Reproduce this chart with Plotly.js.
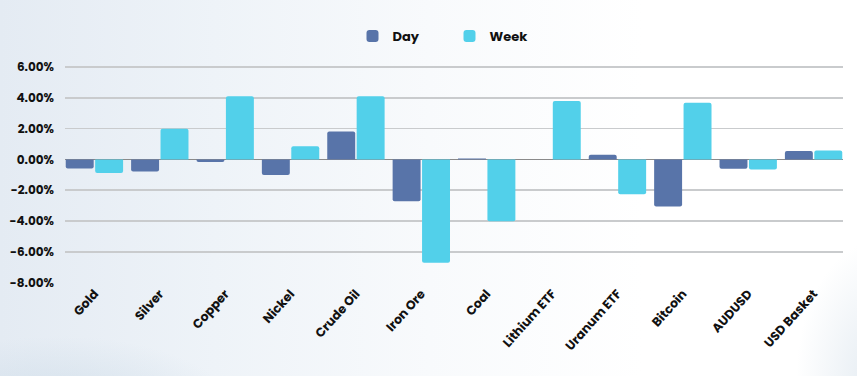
<!DOCTYPE html>
<html>
<head>
<meta charset="utf-8">
<script src="https://cdn.plot.ly/plotly-3.0.1.min.js"></script>
<style>
html,body{margin:0;padding:0;width:857px;height:376px;overflow:hidden;}
body{background:
 radial-gradient(ellipse 260px 120px at 60px 420px, rgba(190,210,225,0.55), rgba(190,210,225,0) 70%),
 radial-gradient(ellipse 120px 200px at 880px 380px, rgba(200,215,228,0.5), rgba(200,215,228,0) 70%),
 linear-gradient(90deg, #e4ebf3 0%, #eef3f8 25%, #f8fafc 50%, #ffffff 75%, #ffffff 100%);}
#chart{width:857px;height:376px;}
</style>
</head>
<body>
<div id="chart"></div>
<script>
const categories = ["Gold","Silver","Copper","Nickel","Crude Oil","Iron Ore","Coal","Lithium ETF","Uranum ETF","Bitcoin","AUDUSD","USD Basket"];
const dayValues  = [-0.59,-0.78,-0.17,-1.02,1.82,-2.71,0.06,0.0,0.30,-3.06,-0.61,0.54];
const weekValues = [-0.89,1.99,4.10,0.85,4.10,-6.71,-4.02,3.80,-2.26,3.69,-0.65,0.58];
const yTickVals  = [-8,-6,-4,-2,0,2,4,6];
const yTickText  = ["-8.00%","-6.00%","-4.00%","-2.00%","0.00%","2.00%","4.00%","6.00%"];

const font = "Poppins, Inter, 'Open Sans', sans-serif";
const traces = [
  {type:"bar", name:"Day", x:categories, y:dayValues,
   marker:{color:"#5874a9", cornerradius:2}},
  {type:"bar", name:"Week", x:categories, y:weekValues,
   marker:{color:"#52d0ea", cornerradius:2}}
];
const layout = {
  width:857, height:376,
  margin:{l:65, r:14, t:64, b:93, autoexpand:false},
  paper_bgcolor:"rgba(0,0,0,0)", plot_bgcolor:"rgba(0,0,0,0)",
  barmode:"group", bargap:0.10, bargroupgap:0.05,
  font:{family:font, color:"#111", size:12},
  showlegend:true,
  legend:{orientation:"h", x:0.5245, xref:"container", xanchor:"center",
          y:1-36/376, yref:"container", yanchor:"middle",
          font:{family:font, size:13, weight:700, color:"#111"}, itemwidth:30,
          entrywidth:52, traceorder:"normal"},
  xaxis:{range:[-0.45,11.45], showgrid:false, zeroline:false, showline:false,
         tickangle:-48, ticks:"", tickfont:{family:font, size:12.5, weight:700, color:"#111"},
         fixedrange:true},
  yaxis:{range:[-8.03,6.2], tickvals:yTickVals, ticktext:yTickText, showgrid:true,
         gridcolor:"#c9cbcd", gridwidth:1.5, zeroline:true, zerolinecolor:"#8a8a8a",
         zerolinewidth:1, showline:false, ticks:"", ticklabelstandoff:10,
         tickfont:{family:font, size:12, weight:700, color:"#111"}, fixedrange:true}
};
Plotly.newPlot("chart", traces, layout, {displayModeBar:false, staticPlot:true});
</script>
</body>
</html>
